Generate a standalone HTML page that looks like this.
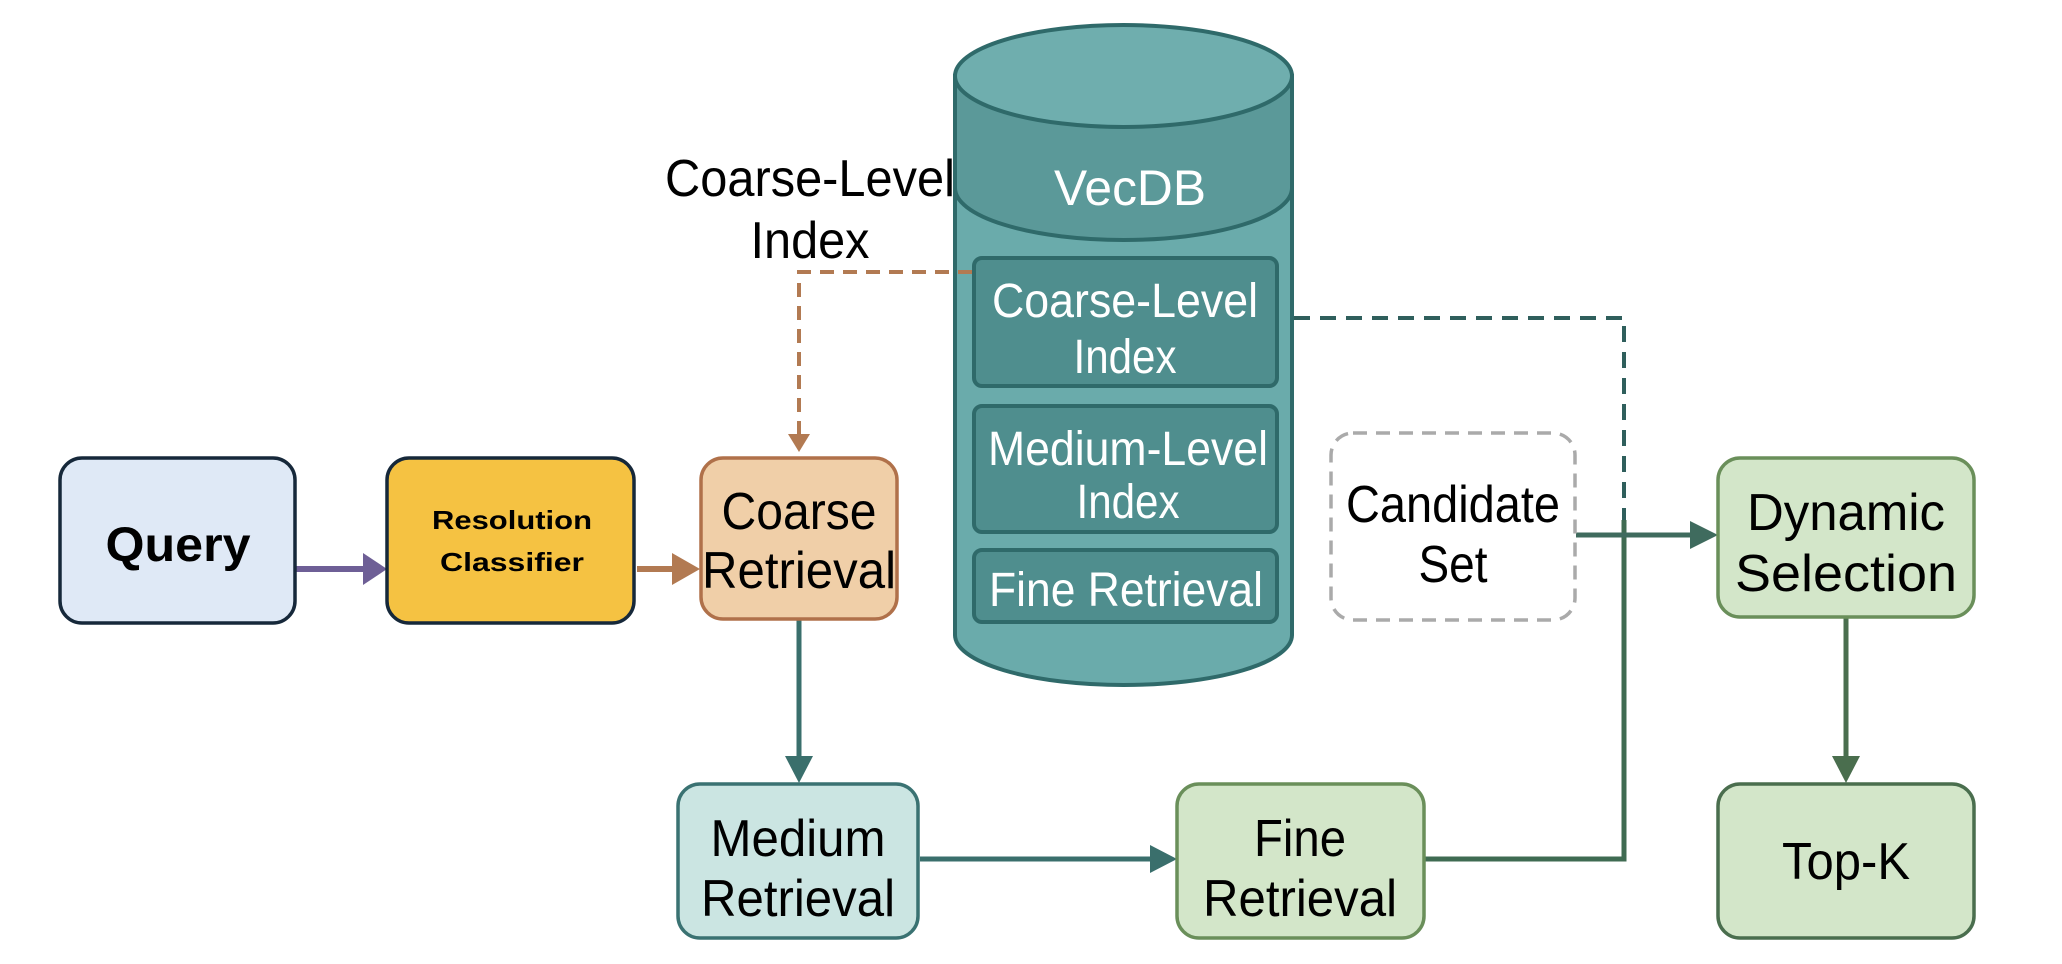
<!DOCTYPE html>
<html><head><meta charset="utf-8"><style>
body{margin:0;background:#fff;}
svg{display:block;}
text{font-family:"Liberation Sans",sans-serif;}
</style></head><body>
<svg width="2062" height="964" viewBox="0 0 2062 964" xmlns="http://www.w3.org/2000/svg">
<!-- cylinder -->
<path d="M955,76 L955,635 A168.5,50 0 0 0 1292,635 L1292,76" fill="#6aabab" stroke="#2f6a6a" stroke-width="4"/>
<path d="M955,76 L955,188 A168.5,52 0 0 0 1292,188 L1292,76 z" fill="#5b9999" stroke="#2f6a6a" stroke-width="4"/>
<ellipse cx="1123.5" cy="76" rx="168.5" ry="51" fill="#6faeae" stroke="#2f6a6a" stroke-width="4"/>
<text x="1130" y="205" font-size="50" fill="#fff" text-anchor="middle" textLength="152" lengthAdjust="spacingAndGlyphs">VecDB</text>
<rect x="974" y="258" width="303" height="128" rx="8" fill="#4f8e8e" stroke="#2f6a6a" stroke-width="4"/>
<text x="1125" y="317" font-size="48" fill="#fff" text-anchor="middle" textLength="266" lengthAdjust="spacingAndGlyphs">Coarse-Level</text>
<text x="1125" y="373" font-size="48" fill="#fff" text-anchor="middle" textLength="103" lengthAdjust="spacingAndGlyphs">Index</text>
<rect x="974" y="406" width="303" height="126" rx="8" fill="#4f8e8e" stroke="#2f6a6a" stroke-width="4"/>
<text x="1128" y="465" font-size="48" fill="#fff" text-anchor="middle" textLength="280" lengthAdjust="spacingAndGlyphs">Medium-Level</text>
<text x="1128" y="518" font-size="48" fill="#fff" text-anchor="middle" textLength="103" lengthAdjust="spacingAndGlyphs">Index</text>
<rect x="974" y="550" width="303" height="72" rx="8" fill="#4f8e8e" stroke="#2f6a6a" stroke-width="4"/>
<text x="1126" y="606" font-size="48" fill="#fff" text-anchor="middle" textLength="274" lengthAdjust="spacingAndGlyphs">Fine Retrieval</text>

<!-- label -->
<text x="810" y="196" font-size="52" fill="#000" text-anchor="middle" textLength="290" lengthAdjust="spacingAndGlyphs">Coarse-Level</text>
<text x="810" y="258" font-size="52" fill="#000" text-anchor="middle" textLength="119" lengthAdjust="spacingAndGlyphs">Index</text>

<!-- connectors -->
<path d="M972,272 L799,272 L799,438" fill="none" stroke="#b27a52" stroke-width="4" stroke-dasharray="14,9"/>
<path d="M788,434 L810,434 L799,452z" fill="#b27a52"/>
<path d="M1294,318 L1624,318 L1624,520" fill="none" stroke="#2f5f5c" stroke-width="4" stroke-dasharray="16,10"/>
<line x1="295" y1="569" x2="368" y2="569" stroke="#6e5f96" stroke-width="6"/>
<path d="M363,553 L387,569 L363,585z" fill="#6e5f96"/>
<line x1="637" y1="569" x2="680" y2="569" stroke="#b27a52" stroke-width="6"/>
<path d="M672,553 L700,569 L672,585z" fill="#b27a52"/>
<line x1="799" y1="619" x2="799" y2="760" stroke="#3a6f6c" stroke-width="5"/>
<path d="M785,756 L813,756 L799,783z" fill="#3a6f6c"/>
<line x1="920" y1="859" x2="1155" y2="859" stroke="#3a6f6c" stroke-width="5"/>
<path d="M1150,845 L1177,859 L1150,873z" fill="#3a6f6c"/>
<path d="M1424,859 L1624,859 L1624,520" fill="none" stroke="#3f6b52" stroke-width="5"/>
<line x1="1576" y1="535" x2="1694" y2="535" stroke="#3f6b5e" stroke-width="5"/>
<path d="M1690,521 L1718,535 L1690,549z" fill="#3f6b5e"/>
<line x1="1846" y1="617" x2="1846" y2="760" stroke="#4a6e4e" stroke-width="5"/>
<path d="M1832,756 L1860,756 L1846,783z" fill="#4a6e4e"/>

<!-- boxes -->
<rect x="60" y="458" width="235" height="165" rx="22" fill="#dfe9f6" stroke="#16283a" stroke-width="3.5"/>
<text x="178" y="561" font-size="48" font-weight="bold" fill="#000" text-anchor="middle" textLength="145" lengthAdjust="spacingAndGlyphs">Query</text>
<rect x="387" y="458" width="247" height="165" rx="22" fill="#f5c242" stroke="#16283a" stroke-width="3.5"/>
<text x="512" y="529" font-size="26" font-weight="bold" fill="#000" text-anchor="middle" textLength="160" lengthAdjust="spacingAndGlyphs">Resolution</text>
<text x="512" y="571" font-size="26" font-weight="bold" fill="#000" text-anchor="middle" textLength="144" lengthAdjust="spacingAndGlyphs">Classifier</text>
<rect x="701" y="458" width="196" height="161" rx="22" fill="#f0cfa8" stroke="#b0714a" stroke-width="3.5"/>
<text x="799" y="529" font-size="52" fill="#000" text-anchor="middle" textLength="155" lengthAdjust="spacingAndGlyphs">Coarse</text>
<text x="799" y="588" font-size="52" fill="#000" text-anchor="middle" textLength="194" lengthAdjust="spacingAndGlyphs">Retrieval</text>
<rect x="678" y="784" width="240" height="154" rx="22" fill="#cbe5e2" stroke="#3a7272" stroke-width="3.5"/>
<text x="798" y="856" font-size="52" fill="#000" text-anchor="middle" textLength="175" lengthAdjust="spacingAndGlyphs">Medium</text>
<text x="798" y="916" font-size="52" fill="#000" text-anchor="middle" textLength="194" lengthAdjust="spacingAndGlyphs">Retrieval</text>
<rect x="1177" y="784" width="247" height="154" rx="22" fill="#d3e6c9" stroke="#6a8f5a" stroke-width="3.5"/>
<text x="1300" y="856" font-size="52" fill="#000" text-anchor="middle" textLength="92" lengthAdjust="spacingAndGlyphs">Fine</text>
<text x="1300" y="916" font-size="52" fill="#000" text-anchor="middle" textLength="194" lengthAdjust="spacingAndGlyphs">Retrieval</text>
<rect x="1331" y="433" width="244" height="187" rx="22" fill="#fff" stroke="#aaaaaa" stroke-width="3.5" stroke-dasharray="14,9"/>
<text x="1453" y="522" font-size="52" fill="#000" text-anchor="middle" textLength="214" lengthAdjust="spacingAndGlyphs">Candidate</text>
<text x="1453" y="582" font-size="52" fill="#000" text-anchor="middle" textLength="69" lengthAdjust="spacingAndGlyphs">Set</text>
<rect x="1718" y="458" width="256" height="159" rx="22" fill="#d3e6c9" stroke="#6a8f5a" stroke-width="3.5"/>
<text x="1846" y="530" font-size="52" fill="#000" text-anchor="middle" textLength="198" lengthAdjust="spacingAndGlyphs">Dynamic</text>
<text x="1846" y="591" font-size="52" fill="#000" text-anchor="middle" textLength="222" lengthAdjust="spacingAndGlyphs">Selection</text>
<rect x="1718" y="784" width="256" height="154" rx="22" fill="#d3e6c9" stroke="#4a6e4e" stroke-width="3.5"/>
<text x="1846" y="879" font-size="52" fill="#000" text-anchor="middle" textLength="128" lengthAdjust="spacingAndGlyphs">Top-K</text>
</svg>
</body></html>
